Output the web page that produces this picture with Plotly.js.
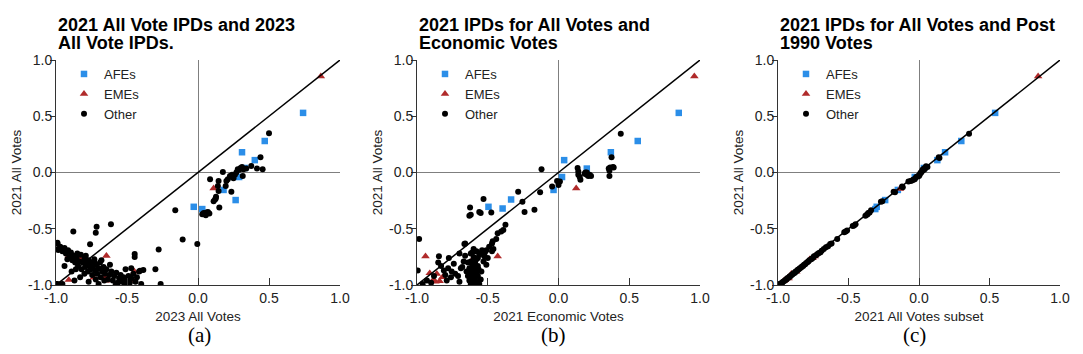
<!DOCTYPE html>
<html>
<head>
<meta charset="utf-8">
<script src="https://cdn.plot.ly/plotly-3.0.1.min.js"></script>
<style>html,body{margin:0;padding:0;background:#fff;}#chart{width:1083px;height:354px;}</style>
</head>
<body>
<div id="chart"></div>
<script>
// ---------- shared ticks ----------
const tickVals = [-1, -0.5, 0, 0.5, 1];
const tickText = ['-1.0', '-0.5', '0.0', '0.5', '1.0'];
const diagonal = [-1, 1];
const seriesNames = ['AFEs', 'EMEs', 'Other'];
const panelTitles = [
  ['2021 All Vote IPDs and 2023', 'All Vote IPDs.'],
  ['2021 IPDs for All Votes and', 'Economic Votes'],
  ['2021 IPDs for All Votes and Post', '1990 Votes']
];
const xTitles = ['2023 All Votes', '2021 Economic Votes', '2021 All Votes subset'];
const yTitle = '2021 All Votes';
const captions = ['(a)', '(b)', '(c)'];

// ---------- panel (a) ----------
const afeA_x = [0.74, 0.47, 0.31, 0.40, 0.33, 0.29, 0.18, 0.265, -0.03, 0.03];
const afeA_y = [0.53, 0.28, 0.18, 0.11, 0.04, -0.04, -0.155, -0.245, -0.305, -0.325];
const emeA_x = [0.865, 0.11, -0.91, -0.83, -0.81, -0.645, -0.91, -0.735, -0.655, -0.648, -0.448, -0.45];
const emeA_y = [0.855, -0.14, -0.74, -0.77, -0.76, -0.74, -0.955, -0.935, -0.925, -0.96, -0.88, -0.96];
const othA_x = [0.50, 0.44, 0.415, 0.455, 0.375, 0.30, 0.29, 0.31, 0.32, 0.34, 0.175, 0.24, 0.23, 0.21, 0.20, 0.315, 0.085, 0.145, 0.14, 0.145, 0.195, 0.235, 0.125, 0.11, 0.15, -0.16, 0.04, 0.05, 0.06, 0.07, 0.03, 0.08, 0.055, 0.26, 0.27, 0.28, 0.225, 0.25, 0.12, 0.127,
  -0.108, -0.005, -0.277, -0.446, -0.446, -0.30, -0.385, -0.408, -0.263, -0.613, -0.714, -0.72, -0.878, -0.76, -0.99, -0.984,
  -0.99, -0.985, -0.97, -0.955, -0.94, -0.93, -0.915, -0.905, -0.895, -0.885, -0.875, -0.865, -0.855, -0.845, -0.835, -0.825, -0.82, -0.81, -0.80, -0.795,
  -0.785, -0.775, -0.77, -0.765, -0.755, -0.75, -0.745, -0.74, -0.73, -0.725, -0.715, -0.71, -0.70, -0.69, -0.685, -0.675, -0.665, -0.655, -0.645, -0.635,
  -0.625, -0.61, -0.60, -0.59, -0.575, -0.565, -0.555, -0.545, -0.535, -0.525, -0.515, -0.505, -0.49, -0.48, -0.47, -0.455, -0.44, -0.43, -0.415, -0.40,
  -0.58, -0.70, -0.77, -0.83, -0.89, -0.94, -0.975, -0.99, -0.955, -0.87, -0.79, -0.85, -0.86, -0.73, -0.68, -0.92, -0.80, -0.62, -0.66, -0.72, -0.51, -0.47];
const othA_y = [0.35, 0.135, 0.035, 0.03, 0.058, 0.04, 0.025, 0.05, 0.03, 0.035, 0.005, -0.02, -0.035, -0.06, -0.075, -0.03, -0.06, -0.075, -0.12, -0.165, -0.12, -0.17, -0.23, -0.255, -0.31, -0.335, -0.36, -0.37, -0.355, -0.35, -0.37, -0.365, -0.38, -0.02, 0.0, 0.03, -0.03, -0.05, -0.24, -0.215,
  -0.595, -0.635, -0.685, -0.725, -0.75, -0.86, -0.867, -0.873, -0.99, -0.46, -0.482, -0.535, -0.525, -0.638, -0.624, -0.689,
  -0.63, -0.68, -0.66, -0.70, -0.67, -0.72, -0.69, -0.75, -0.71, -0.78, -0.74, -0.80, -0.76, -0.83, -0.79, -0.73, -0.86, -0.80, -0.77, -0.84,
  -0.81, -0.88, -0.78, -0.83, -0.86, -0.80, -0.91, -0.84, -0.77, -0.87, -0.82, -0.90, -0.85, -0.80, -0.93, -0.88, -0.84, -0.90, -0.86, -0.95,
  -0.91, -0.88, -0.96, -0.92, -0.89, -0.98, -0.94, -0.91, -0.97, -0.93, -0.99, -0.95, -0.92, -0.98, -0.94, -0.90, -0.97, -0.93, -0.88, -0.99,
  -1.0, -0.99, -0.97, -0.93, -0.88, -0.83, -0.995, -0.99, -0.99, -0.96, -0.74, -0.72, -0.86, -0.80, -0.78, -0.77, -0.90, -0.82, -0.96, -0.95, -0.86, -0.85];

// ---------- panel (b) ----------
const afeB_x = [0.85, 0.56, 0.37, 0.04, 0.20, 0.025, -0.035, -0.335, -0.395, -0.495];
const afeB_y = [0.53, 0.28, 0.18, 0.11, 0.035, -0.04, -0.155, -0.24, -0.32, -0.305];
const emeB_x = [0.96, 0.125, -0.94, -0.43, -0.60, -0.91, -0.86, -0.885, -0.84, -0.82, -0.87];
const emeB_y = [0.855, -0.14, -0.745, -0.745, -0.76, -0.895, -0.90, -0.955, -0.965, -0.93, -0.97];
const othB_x = [0.44, 0.375, 0.365, 0.385, 0.36, 0.355, 0.36, 0.39, 0.135, 0.14, 0.14, 0.15, 0.155, 0.19, 0.20, 0.21, 0.22, 0.23, 0.185, 0.20,
  -0.12, 0.01, 0.0, -0.01, -0.045, -0.13, -0.285, -0.255, -0.53, -0.625, -0.62, -0.63, -0.55, -0.56, -0.475, -0.24, -0.17,
  -0.375, -0.39, -0.405, -0.43, -0.44, -0.465, -0.47, -0.49, -0.46, -0.51, -0.665, -0.985, -0.845, -0.775, -0.995, -0.66,
  -0.60, -0.58, -0.62, -0.56, -0.60, -0.58, -0.62, -0.59, -0.61, -0.57, -0.63, -0.60, -0.58, -0.62, -0.60, -0.57, -0.61, -0.59, -0.63, -0.60,
  -0.58, -0.62, -0.59, -0.56, -0.64, -0.55, -0.64, -0.61, -0.57, -0.60, -0.62, -0.58, -0.60, -0.565,
  -0.525, -0.50, -0.555, -0.54, -0.53, -0.51, -0.545, -0.47, -0.52, -0.70, -0.69, -0.68, -0.74, -0.755, -0.81, -0.80, -0.70, -0.85, -0.83, -0.78,
  -0.73, -0.71, -0.88, -0.90, -0.93, -0.96, -0.67, -0.65, -0.66, -0.76, -0.79];
const othB_y = [0.345, 0.135, 0.045, 0.05, 0.015, 0.035, -0.03, 0.045, 0.04, 0.01, -0.02, -0.04, -0.065, 0.0, -0.02, -0.03, -0.02, -0.03, -0.01, 0.0,
  0.03, -0.08, -0.11, -0.075, -0.125, -0.175, -0.17, -0.26, -0.235, -0.31, -0.375, -0.385, -0.36, -0.35, -0.355, -0.35, -0.33,
  -0.465, -0.51, -0.525, -0.54, -0.59, -0.61, -0.63, -0.66, -0.68, -0.69, -0.635, -0.59, -0.745, -0.76, -0.87, -0.63,
  -0.68, -0.70, -0.72, -0.73, -0.75, -0.77, -0.79, -0.80, -0.82, -0.83, -0.85, -0.86, -0.88, -0.89, -0.91, -0.92, -0.93, -0.95, -0.96, -0.97,
  -0.98, -0.99, -1.0, -0.99, -0.92, -0.95, -0.80, -0.71, -0.76, -0.84, -0.94, -0.90, -0.99, -0.86,
  -0.745, -0.76, -0.72, -0.69, -0.79, -0.82, -0.88, -0.70, -0.71, -0.72, -0.85, -0.84, -0.81, -0.88, -0.87, -0.91, -0.97, -0.80, -0.83, -0.85,
  -0.90, -0.92, -0.92, -0.98, -0.96, -0.99, -0.79, -0.88, -0.74, -0.93, -0.96];

// ---------- panel (c) ----------
const afeC_x = [0.54, 0.30, 0.185, 0.13, 0.035, -0.03, -0.15, -0.24, -0.30, -0.31];
const afeC_y = [0.53, 0.28, 0.18, 0.11, 0.04, -0.04, -0.155, -0.245, -0.305, -0.325];
const emeC_x = [0.845, -0.135, -0.775, -0.755, -0.95, -0.93, -0.74, -0.87, -0.905, -0.925, -0.96];
const emeC_y = [0.855, -0.145, -0.77, -0.76, -0.955, -0.935, -0.745, -0.88, -0.90, -0.94, -0.965];
const othC_x = [0.355, 0.145, 0.14, 0.05, 0.06, 0.045, 0.035, 0.04, 0.03, 0.025, 0.02, 0.015, 0.01, 0.005, 0.0, -0.01, -0.02, -0.03, -0.04, -0.05, -0.06, -0.075,
  -0.12, -0.115, -0.17, -0.18, -0.26, -0.27, -0.34, -0.35, -0.36, -0.365, -0.37, -0.38, -0.45, -0.46, -0.47, -0.51, -0.52, -0.53, -0.58,
  -0.62, -0.63, -0.645, -0.66, -0.675, -0.69, -0.70, -0.71, -0.72, -0.73, -0.745, -0.75, -0.758, -0.765, -0.778, -0.785, -0.79, -0.80, -0.807, -0.815,
  -0.822, -0.83, -0.836, -0.845, -0.852, -0.86, -0.866, -0.875, -0.88, -0.89, -0.896, -0.905, -0.91, -0.918, -0.925, -0.935, -0.94, -0.948, -0.955, -0.965,
  -0.97, -0.98, -0.985, -0.99, -1.0];
const othC_y = [0.345, 0.13, 0.135, 0.055, 0.05, 0.04, 0.035, 0.03, 0.02, 0.025, 0.01, 0.0, -0.005, -0.02, -0.03, -0.035, -0.04, -0.06, -0.065, -0.07, -0.075, -0.08,
  -0.125, -0.13, -0.175, -0.17, -0.255, -0.26, -0.335, -0.355, -0.36, -0.37, -0.375, -0.385, -0.46, -0.47, -0.475, -0.515, -0.525, -0.53, -0.59,
  -0.63, -0.635, -0.655, -0.665, -0.68, -0.695, -0.71, -0.715, -0.725, -0.735, -0.745, -0.755, -0.765, -0.77, -0.78, -0.79, -0.795, -0.805, -0.815, -0.82,
  -0.83, -0.835, -0.845, -0.85, -0.86, -0.865, -0.875, -0.88, -0.89, -0.895, -0.905, -0.91, -0.92, -0.925, -0.935, -0.94, -0.95, -0.955, -0.965, -0.97,
  -0.98, -0.985, -0.99, -1.0, -0.995];

// ---------- build ----------
const SANS = 'Liberation Sans, Arial, Helvetica, sans-serif';
const SERIF = 'Liberation Serif, DejaVu Serif, serif';
const colors = {AFEs: '#2b8ee8', EMEs: '#b02a2a', Other: '#000000'};
const symbols = {AFEs: 'square', EMEs: 'triangle-up', Other: 'circle'};
const sizes = {AFEs: 6.5, EMEs: 7.5, Other: 6};

const W = 1083, H = 354;
const plotBoxes = [[56, 340], [417, 700], [778, 1060]];
const plotTop = 60, plotBottom = 285;
const px2x = p => p / W;
const px2y = p => 1 - p / H;

const panels = [
  {afe: [afeA_x, afeA_y], eme: [emeA_x, emeA_y], oth: [othA_x, othA_y]},
  {afe: [afeB_x, afeB_y], eme: [emeB_x, emeB_y], oth: [othB_x, othB_y]},
  {afe: [afeC_x, afeC_y], eme: [emeC_x, emeC_y], oth: [othC_x, othC_y]}
];

const data = [];
const layout = {
  width: W, height: H, autosize: false,
  margin: {l: 0, r: 0, t: 0, b: 0},
  paper_bgcolor: '#ffffff', plot_bgcolor: '#ffffff',
  font: {family: SANS, color: '#222'},
  annotations: [], showlegend: true
};

panels.forEach((p, i) => {
  const n = i === 0 ? '' : String(i + 1);
  const xa = 'x' + n, ya = 'y' + n;
  const leg = 'legend' + n;
  const groups = [['AFEs', p.afe], ['EMEs', p.eme], ['Other', p.oth]];
  groups.forEach(([name, xy]) => {
    data.push({
      type: 'scatter', mode: 'markers', name: name,
      x: xy[0], y: xy[1], xaxis: xa, yaxis: ya, legend: leg,
      marker: {symbol: symbols[name], size: sizes[name], color: colors[name], line: {width: 0}},
      hoverinfo: 'x+y+name'
    });
  });
  data.push({
    type: 'scatter', mode: 'lines', x: diagonal, y: diagonal, xaxis: xa, yaxis: ya,
    line: {color: '#000', width: 1.5}, showlegend: false, hoverinfo: 'skip'
  });

  const [l, r] = plotBoxes[i];
  layout['xaxis' + n] = {
    domain: [px2x(l), px2x(r)], range: [-1, 1], anchor: ya, fixedrange: true,
    showline: true, linecolor: '#333', linewidth: 1, mirror: false,
    ticks: 'inside', ticklen: 7, tickwidth: 1, tickcolor: '#333',
    tickmode: 'array', tickvals: tickVals, ticktext: tickText,
    tickfont: {family: SANS, size: 14, color: '#222'},
    showgrid: false, zeroline: true, zerolinecolor: '#7f7f7f', zerolinewidth: 1,
    title: {text: xTitles[i], font: {family: SANS, size: 13.5, color: '#222'}, standoff: 6}
  };
  layout['yaxis' + n] = {
    domain: [px2y(plotBottom), px2y(plotTop)], range: [-1, 1], anchor: xa, fixedrange: true,
    showline: true, linecolor: '#333', linewidth: 1, mirror: false,
    ticks: 'outside', ticklen: 5, tickwidth: 1, tickcolor: '#333', ticklabelstandoff: -5,
    tickmode: 'array', tickvals: tickVals, ticktext: tickText,
    tickfont: {family: SANS, size: 14, color: '#222'},
    showgrid: false, zeroline: true, zerolinecolor: '#7f7f7f', zerolinewidth: 1,
    title: {text: yTitle, font: {family: SANS, size: 13.5, color: '#222'}, standoff: 3}
  };
  layout[leg] = {
    x: px2x(l + 8), y: px2y(59), xanchor: 'left', yanchor: 'top',
    bgcolor: 'rgba(0,0,0,0)', borderwidth: 0,
    font: {family: SANS, size: 13, color: '#222'}, itemclick: false, itemdoubleclick: false
  };
  // titles (two lines)
  panelTitles[i].forEach((t, k) => {
    layout.annotations.push({
      xref: 'paper', yref: 'paper', x: px2x(l), y: px2y(k === 0 ? 37 : 55),
      xanchor: 'left', yanchor: 'bottom', showarrow: false, text: '<b>' + t + '</b>',
      font: {family: SANS, size: 18, color: '#000'}, align: 'left'
    });
  });
  layout.annotations.push({
    xref: 'paper', yref: 'paper', x: px2x([199, 553, 914][i]), y: px2y(335),
    xanchor: 'center', yanchor: 'middle', showarrow: false, text: captions[i],
    font: {family: SERIF, size: 21, color: '#000'}
  });
});

Plotly.newPlot('chart', data, layout, {staticPlot: false, displayModeBar: false});
</script>
</body>
</html>
